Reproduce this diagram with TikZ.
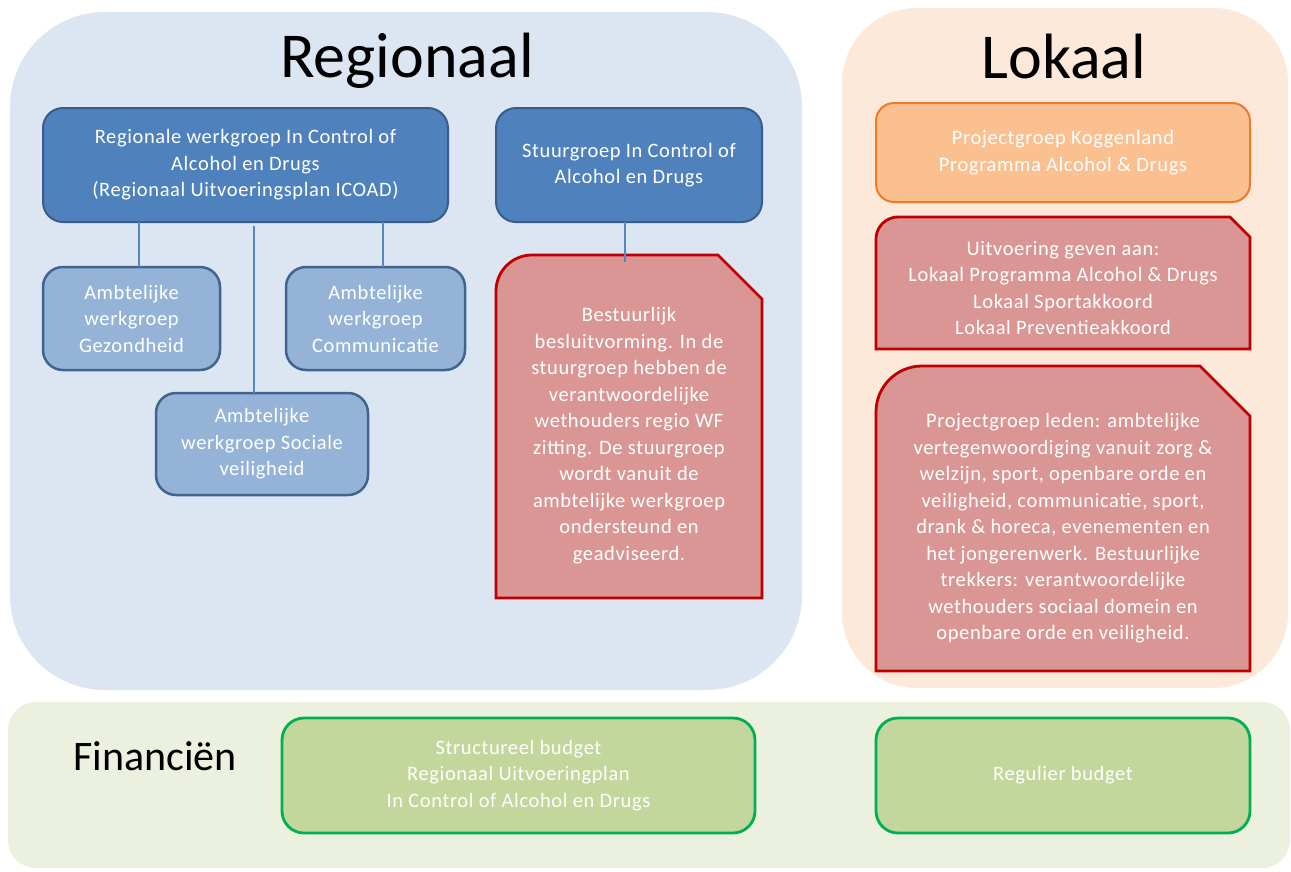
\documentclass[tikz,border=0pt]{standalone}
\usepackage{fontspec}
\setmainfont{Carlito}
\newfontfamily\boxfont[LetterSpace=3]{Carlito}
\usetikzlibrary{calc}
\definecolor{regbg}{HTML}{DCE6F2}
\definecolor{lokbg}{HTML}{FDE9D9}
\definecolor{finbg}{HTML}{EBF1DE}
\definecolor{dblue}{HTML}{4F81BD}
\definecolor{dblueline}{HTML}{385D8A}
\definecolor{lblue}{HTML}{95B3D7}
\definecolor{lblueline}{HTML}{41648F}
\definecolor{redfill}{HTML}{D99694}
\definecolor{redline}{HTML}{C00000}
\definecolor{orfill}{HTML}{FAC090}
\definecolor{orline}{HTML}{EE7A2A}
\definecolor{grfill}{HTML}{C3D69B}
\definecolor{grline}{HTML}{00B050}
\definecolor{conn}{HTML}{5B85BE}
\newcommand\mysnip[3]{%
  \draw[redshape] (#1.south west) -- ($(#1.north west)+(0,#2)$)
    .. controls ($(#1.north west)+(0,0.448*#2)$) and ($(#1.north west)+(0.448*#2,0)$) .. ($(#1.north west)+(#2,0)$)
    -- ($(#1.north east)+(-#3,0)$) -- ($(#1.north east)+(0,#3)$) -- (#1.south east) -- cycle;}
\begin{document}
\begin{tikzpicture}[x=1pt,y=-1pt,
  boxtext/.style={text=white,align=center,font=\boxfont\fontsize{20.5}{26.5}\selectfont,inner sep=0pt,outer sep=0pt},
  area/.style={inner sep=0pt,outer sep=0pt,draw=none},
  dbox/.style={boxtext,fill=dblue,draw=dblueline,line width=2pt,rounded corners=20pt},
  lbox/.style={boxtext,fill=lblue,draw=lblueline,line width=2.5pt,rounded corners=20pt},
  obox/.style={boxtext,fill=orfill,draw=orline,line width=2pt,rounded corners=18pt},
  gbox/.style={boxtext,fill=grfill,draw=grline,line width=2.8pt,rounded corners=22pt},
  redshape/.style={fill=redfill,draw=redline,line width=2.8pt,line join=miter},
  connector/.style={draw=conn,line width=1.3pt},
  title/.style={text=black,inner sep=0pt,anchor=base}
]
\fill[white] (0,0) rectangle (1291,871);
\useasboundingbox (0,0) rectangle (1291,871);
% panels
\fill[regbg, rounded corners=95pt] (10,12) rectangle (802,690);
\fill[lokbg, rounded corners=75pt] (842,8) rectangle (1288,688);
\fill[finbg, rounded corners=28pt] (8,702) rectangle (1290,868);
% titles
\node[title,font=\fontsize{64}{70}\selectfont] (treg) at (407,77) {Regionaal};
\node[title,font=\fontsize{64}{70}\selectfont] (tlok) at (1064,78) {Lokaal};
\node[title,font=\fontsize{42}{46}\selectfont] (tfin) at (155,770) {Financiën};
% regional boxes
\node[dbox,minimum width=405pt,minimum height=114pt] (reg) at (245.5,165)
  {Regionale werkgroep In Control of\\Alcohol en Drugs\\(Regionaal Uitvoeringsplan ICOAD)};
\node[dbox,minimum width=266pt,minimum height=114pt] (stuur) at (629,165)
  {Stuurgroep In Control of\\Alcohol en Drugs};
\node[lbox,minimum width=177pt,minimum height=103pt] (gez) at (131.5,318.5)
  {Ambtelijke\\werkgroep\\Gezondheid};
\node[lbox,minimum width=179pt,minimum height=103pt] (com) at (375.5,318.5)
  {Ambtelijke\\werkgroep\\Communicatie};
\node[lbox,minimum width=212pt,minimum height=102pt] (soc) at (262,444)
  {Ambtelijke\\werkgroep Sociale\\veiligheid};
% connectors
\draw[connector] ([xshift=7.5pt]gez.north) -- ([xshift=7.5pt]gez.north |- reg.south);
\draw[connector] ([xshift=7.5pt]com.north) -- ([xshift=7.5pt]com.north |- reg.south);
\draw[connector] ([xshift=-8pt]soc.north) -- ($([xshift=-8pt]soc.north |- reg.south)+(0,4)$);
% red box regional
\node[area,minimum width=266pt,minimum height=343pt] (besbox) at (629,426.5) {};
\mysnip{besbox}{36}{44}
\draw[connector] ([xshift=-4pt]stuur.south) -- ([xshift=-4pt]stuur.south |- besbox.north) -- ++(0,7);
\node[boxtext] (bestxt) at (629,435.5)
  {Bestuurlijk\\besluitvorming. In de\\stuurgroep hebben de\\verantwoordelijke\\wethouders regio WF\\zitting. De stuurgroep\\wordt vanuit de\\ambtelijke werkgroep\\ondersteund en\\geadviseerd.};
% lokaal boxes
\node[obox,minimum width=374pt,minimum height=99pt] (proj) at (1063,152.5)
  {Projectgroep Koggenland\\Programma Alcohol \& Drugs};
\node[area,minimum width=374pt,minimum height=132pt] (uitbox) at (1063,283) {};
\mysnip{uitbox}{22}{20}
\node[boxtext] (uittxt) at (1063,288)
  {Uitvoering geven aan:\\Lokaal Programma Alcohol \& Drugs\\Lokaal Sportakkoord\\Lokaal Preventieakkoord};
\node[area,minimum width=374pt,minimum height=305pt] (ledbox) at (1063,518.5) {};
\mysnip{ledbox}{46}{50}
\node[boxtext] (ledtxt) at (1063,528.5)
  {Projectgroep leden: ambtelijke\\vertegenwoordiging vanuit zorg \&\\welzijn, sport, openbare orde en\\veiligheid, communicatie, sport,\\drank \& horeca, evenementen en\\het jongerenwerk. Bestuurlijke\\trekkers: verantwoordelijke\\wethouders sociaal domein en\\openbare orde en veiligheid.};
% financien
\node[gbox,minimum width=473pt,minimum height=115pt] (fin1) at (518.5,775.5)
  {Structureel budget\\Regionaal Uitvoeringplan\\In Control of Alcohol en Drugs};
\node[gbox,minimum width=374pt,minimum height=115pt] (fin2) at (1063,775.5)
  {Regulier budget};
\end{tikzpicture}
\end{document}
